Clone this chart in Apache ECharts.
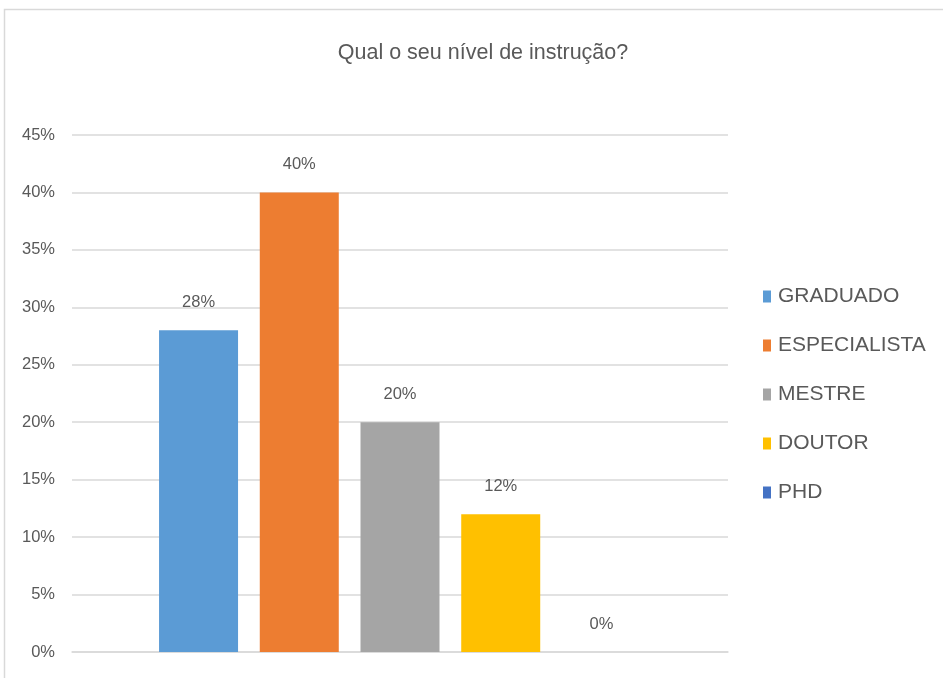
<!DOCTYPE html>
<html>
<head>
<meta charset="utf-8">
<script src="https://cdn.jsdelivr.net/npm/echarts@6/dist/echarts.min.js"></script>
<style>
html,body{margin:0;padding:0;background:#fff;}
#chart{width:943px;height:678px;}
</style>
</head>
<body>
<div id="chart"></div>
<script>
const titleText = 'Qual o seu nível de instrução?';
const categories = ['Qual o seu nível de instrução?'];
const seriesNames = ['GRADUADO', 'ESPECIALISTA', 'MESTRE', 'DOUTOR', 'PHD'];
const seriesValues = [28, 40, 20, 12, 0];
const seriesColors = ['#5B9BD5', '#ED7D31', '#A5A5A5', '#FFC000', '#4472C4'];
const yTicks = [0, 5, 10, 15, 20, 25, 30, 35, 40, 45];

const FONT = '"Liberation Sans Narrow", "Liberation Sans", Arial, sans-serif';
const TXT = '#595959';

const chart = echarts.init(document.getElementById('chart'), null, {renderer: 'canvas'});
chart.setOption({
  animation: false,
  backgroundColor: '#ffffff',
  graphic: [{
    type: 'rect',
    shape: {x: 4.5, y: 9.5, width: 1000, height: 1000},
    style: {fill: 'none', stroke: '#d9d9d9', lineWidth: 1.5},
    silent: true, z: -10
  }],
  title: {
    text: titleText,
    left: 478,
    top: 37,
    textAlign: 'center',
    textStyle: {fontFamily: FONT, fontSize: 21.5, fontWeight: 'normal', color: TXT}
  },
  legend: {
    orient: 'vertical',
    left: 758,
    top: 281,
    itemWidth: 8,
    itemHeight: 12,
    itemGap: 28,
    icon: 'rect',
    data: seriesNames,
    textStyle: {fontFamily: FONT, fontSize: 21, color: TXT, padding: [0, 0, 0, 2]}
  },
  grid: {left: 72, right: 215, top: 135, bottom: 26, containLabel: false},
  xAxis: {
    type: 'category',
    data: categories,
    axisLabel: {show: false},
    axisTick: {show: false},
    axisLine: {show: true, lineStyle: {color: '#d9d9d9', width: 1.5}}
  },
  yAxis: {
    type: 'value',
    min: yTicks[0],
    max: yTicks[yTicks.length - 1],
    interval: yTicks[1] - yTicks[0],
    axisLine: {show: false},
    axisTick: {show: false},
    axisLabel: {
      formatter: '{value}%',
      fontFamily: FONT, fontSize: 16.5, color: TXT, margin: 17
    },
    splitLine: {lineStyle: {color: '#d9d9d9', width: 1.5}}
  },
  series: seriesNames.map((name, i) => ({
    name: name,
    type: 'bar',
    data: [seriesValues[i]],
    barWidth: 79,
    barGap: '27.5%',
    itemStyle: {color: seriesColors[i]},
    label: {
      show: true,
      position: 'top',
      distance: 19,
      formatter: '{c}%',
      fontFamily: FONT, fontSize: 16.5, color: TXT
    }
  }))
});
</script>
</body>
</html>
